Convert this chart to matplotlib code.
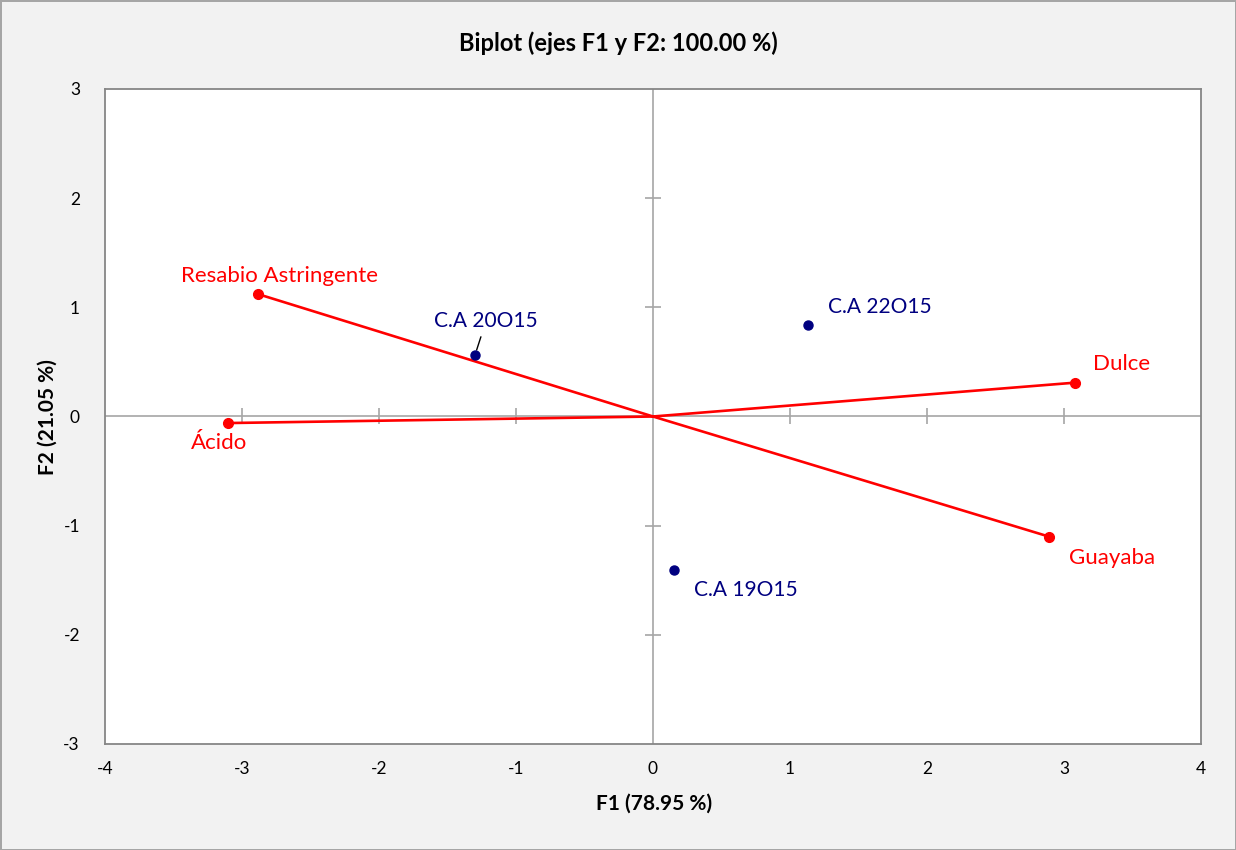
import matplotlib
matplotlib.use("Agg")
import matplotlib.pyplot as plt

plt.rcParams['font.family'] = ['Lato', 'DejaVu Sans']
plt.rcParams['axes.unicode_minus'] = False

# Variables (vectors)
var_names = ["Resabio Astringente", "Ácido", "Dulce", "Guayaba"]
var_x = [-2.88, -3.10, 3.08, 2.89]
var_y = [1.12, -0.06, 0.31, -1.10]

# Observations
obs_names = ["C.A 20O15", "C.A 22O15", "C.A 19O15"]
obs_x = [-1.30, 1.13, 0.15]
obs_y = [0.56, 0.84, -1.41]

xticks = [-4, -3, -2, -1, 0, 1, 2, 3, 4]
yticks = [-3, -2, -1, 0, 1, 2, 3]

# label offsets in pixels (position styling)
var_off = [(21, 18), (-9, -20), (47, 19), (63, -21)]
obs_off = [(11, 34), (72, 18), (72, -20)]

RED = "#FF0000"
NAVY = "#000080"
GRID = "#A6A6A6"
LBL = 16
OBS_LBL = 15

fig = plt.figure(figsize=(12.36, 8.5), dpi=100)
fig.patch.set_facecolor("#F2F2F2")
fig.patch.set_edgecolor("#A6A6A6")
fig.patch.set_linewidth(2)

ax = fig.add_axes([105/1236, 1-744/850, (1201-105)/1236, (744-89)/850])
ax.set_facecolor("white")
ax.set_xlim(xticks[0], xticks[-1])
ax.set_ylim(yticks[0], yticks[-1])
ax.set_xticks(xticks)
ax.set_yticks(yticks)
ax.tick_params(length=0, labelsize=12.5, colors="black", pad=12)
ax.tick_params(axis='y', pad=18)
for s in ax.spines.values():
    s.set_color("#868686")
    s.set_linewidth(1.3)

# zero axes with cross ticks
ax.axhline(0, color=GRID, lw=1.2, zorder=1)
ax.axvline(0, color=GRID, lw=1.2, zorder=1)
ax.plot([t for t in xticks[1:-1] if t != 0], [0]*(len(xticks)-3), ls="none",
        marker="|", ms=11, mew=1.2, color=GRID, zorder=1)
ax.plot([0]*(len(yticks)-3), [t for t in yticks[1:-1] if t != 0], ls="none",
        marker="_", ms=11, mew=1.2, color=GRID, zorder=1)

# vectors
for name, x, y, off in zip(var_names, var_x, var_y, var_off):
    ax.plot([0, x], [0, y], color=RED, lw=1.9, zorder=3)
    ax.plot([x], [y], marker="o", ms=7, color=RED, zorder=4)
    ax.annotate(name, (x, y), xytext=off, textcoords="offset pixels",
                ha="center", va="center", color=RED, fontsize=LBL)

# observations
for i, (name, x, y, off) in enumerate(zip(obs_names, obs_x, obs_y, obs_off)):
    ax.plot([x], [y], marker="o", ms=6.5, color=NAVY, ls="none", zorder=5)
    if i == 0:
        ax.annotate(name, (x, y), xytext=off, textcoords="offset pixels",
                    ha="center", va="center", color=NAVY, fontsize=OBS_LBL,
                    arrowprops=dict(arrowstyle="-", color="black", lw=1,
                                    shrinkA=2, shrinkB=4))
    else:
        ax.annotate(name, (x, y), xytext=off, textcoords="offset pixels",
                    ha="center", va="center", color=NAVY, fontsize=OBS_LBL)

fig.text(618/1236, 1-43/850, "Biplot (ejes F1 y F2: 100.00 %)", ha="center",
         va="center", fontsize=17, fontweight="bold")
fig.text(654/1236, 1-804/850, "F1 (78.95 %)", ha="center", va="center",
         fontsize=15, fontweight="bold")
fig.text(48/1236, 1-417/850, "F2 (21.05 %)", ha="center", va="center",
         fontsize=15, fontweight="bold", rotation=90)

fig.savefig("out.png", dpi=100, facecolor=fig.get_facecolor(),
            edgecolor=fig.get_edgecolor())
